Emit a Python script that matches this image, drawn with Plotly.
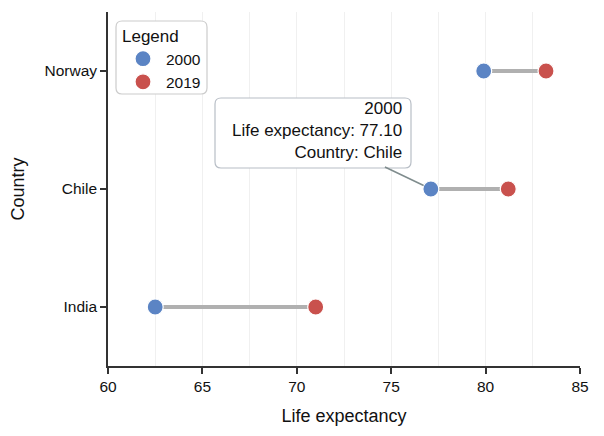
import plotly.graph_objects as go

countries = ["India", "Chile", "Norway"]
life_2000 = [62.5, 77.1, 79.9]
life_2019 = [71.0, 81.2, 83.2]
x_ticks = [60, 65, 70, 75, 80, 85]

BLUE = "#5b84c4"
RED = "#c9514d"
FONT = "Liberation Sans, Arial, sans-serif"

# plot area on screen (page has an 8px body margin)
PX0, PX1, PY0, PY1 = 108, 580, 12, 366


def px(x):
    return (x - PX0) / (PX1 - PX0)


def py(y):
    return (PY1 - y) / (PY1 - PY0)


def round_box(x0, y0, x1, y1, r=6):
    # rounded rectangle path in paper coords from screen pixels
    rx, ry = r / (PX1 - PX0), r / (PY1 - PY0)
    a, b, c, d = px(x0), px(x1), py(y0), py(y1)
    return (f"M{a + rx},{c} L{b - rx},{c} Q{b},{c} {b},{c - ry} "
            f"L{b},{d + ry} Q{b},{d} {b - rx},{d} L{a + rx},{d} "
            f"Q{a},{d} {a},{d + ry} L{a},{c - ry} Q{a},{c} {a + rx},{c} Z")


fig = go.Figure()

# segments between the two years
for c, a, b in zip(countries, life_2000, life_2019):
    fig.add_trace(go.Scatter(
        x=[a, b], y=[c, c], mode="lines",
        line=dict(color="#b0b0b0", width=4),
        showlegend=False, hoverinfo="skip"
    ))

fig.add_trace(go.Scatter(
    x=life_2000, y=countries, mode="markers", name="2000",
    marker=dict(color=BLUE, size=16, line=dict(color="white", width=1.2))
))
fig.add_trace(go.Scatter(
    x=life_2019, y=countries, mode="markers", name="2019",
    marker=dict(color=RED, size=16, line=dict(color="white", width=1.2))
))

# legend frame and tooltip frame (rounded)
fig.add_shape(type="path", xref="paper", yref="paper", layer="above",
              path=round_box(116, 21, 207, 94), fillcolor="white",
              line=dict(color="#cccccc", width=1.2))
fig.add_shape(type="path", xref="paper", yref="paper", layer="above",
              path=round_box(215, 98, 411, 168), fillcolor="white",
              line=dict(color="#b8bec6", width=1.2))

# connector from the tooltip to the Chile 2000 point
fig.add_annotation(
    x=life_2000[1], y=countries[1], text=" ", width=196, height=70,
    showarrow=True, arrowhead=0, arrowwidth=1.5, arrowcolor="#7f8c8d",
    ax=-119, ay=-57, standoff=8, borderpad=0, borderwidth=0
)

tip_text = "2000<br>Life expectancy: %.2f<br>Country: %s" % (life_2000[1], countries[1])
fig.add_annotation(
    xref="paper", yref="paper", x=px(404), y=py(131),
    xanchor="right", yanchor="middle", align="right",
    text=tip_text, showarrow=False,
    font=dict(family=FONT, size=17, color="#111111")
)

fig.update_layout(
    width=596, height=428,
    margin=dict(l=100, r=24, t=4, b=70),
    plot_bgcolor="white", paper_bgcolor="white",
    font=dict(family=FONT, color="#111111"),
    legend=dict(
        title=dict(text="Legend", font=dict(size=17)),
        font=dict(size=15.5),
        x=px(120), y=py(20), xanchor="left", yanchor="top",
        itemwidth=36,
        bgcolor="rgba(0,0,0,0)", borderwidth=0,
    ),
    xaxis=dict(
        range=[60, 85], tickvals=x_ticks,
        title=dict(text="Life expectancy", font=dict(size=18)),
        tickfont=dict(size=15.5),
        showline=True, linecolor="#333333", linewidth=1.6,
        ticks="outside", ticklen=6, tickcolor="#333333", tickwidth=1.6,
        showgrid=True, gridcolor="#f0f0f0", gridwidth=1,
        minor=dict(dtick=2.5, showgrid=True, gridcolor="#f0f0f0"),
        zeroline=False,
    ),
    yaxis=dict(
        range=[-0.5, 2.5], categoryorder="array", categoryarray=countries,
        title=dict(text="Country", font=dict(size=18)),
        tickfont=dict(size=15.5),
        showline=True, linecolor="#333333", linewidth=1.6,
        ticks="outside", ticklen=6, tickcolor="#333333", tickwidth=1.6,
        showgrid=False, zeroline=False,
    ),
)

fig.write_html("out.html")
